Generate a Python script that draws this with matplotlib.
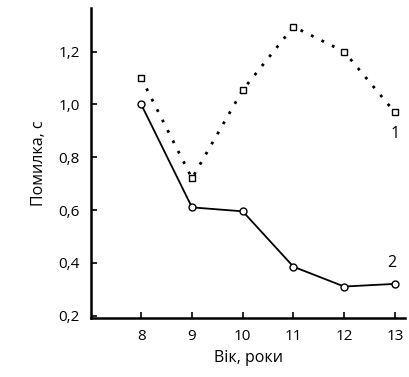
import matplotlib
matplotlib.use("Agg")
import matplotlib.pyplot as plt

ages = [8, 9, 10, 11, 12, 13]
error_1 = [1.10, 0.72, 1.055, 1.295, 1.20, 0.97]
error_2 = [1.00, 0.61, 0.595, 0.385, 0.31, 0.32]
yticks = [0.2, 0.4, 0.6, 0.8, 1.0, 1.2]
ytick_labels = ["0,2", "0,4", "0,6", "0,8", "1,0", "1,2"]

plt.rcParams["font.family"] = "Open Sans"

fig = plt.figure(figsize=(4.1, 3.77), dpi=100)
ax = fig.add_axes([0.222, 0.156, 0.766, 0.823])

ax.plot(ages, error_1, color="black", linestyle=(0, (1, 3.2)), linewidth=2,
        marker="s", markersize=5, markerfacecolor="white", markeredgecolor="black",
        markeredgewidth=1)
ax.plot(ages, error_2, color="black", linestyle="-", linewidth=1.3,
        marker="o", markersize=5, markerfacecolor="white", markeredgecolor="black",
        markeredgewidth=1)

ax.text(ages[-1], error_1[-1] - 0.05, "1", ha="center", va="top", fontsize=11.5)
ax.text(ages[-1] - 0.07, error_2[-1] + 0.05, "2", ha="center", va="bottom", fontsize=11.5)

ax.set_xlim(7.01, 13.2)
ax.set_ylim(0.19, 1.366)
ax.set_xticks(ages)
ax.set_yticks(yticks)
ax.set_yticklabels(ytick_labels)
ax.tick_params(direction="in", length=4, width=1.2, labelsize=11)
ax.tick_params(axis="y", pad=8)
ax.tick_params(axis="x", pad=8)

ax.spines["top"].set_visible(False)
ax.spines["right"].set_visible(False)
ax.spines["left"].set_linewidth(1.8)
ax.spines["bottom"].set_linewidth(1.8)

ax.set_xlabel("Вік, роки", fontsize=11.5)
ax.set_ylabel("Помилка, с", fontsize=11.5, labelpad=8)

plt.savefig("out.png", dpi=100)
